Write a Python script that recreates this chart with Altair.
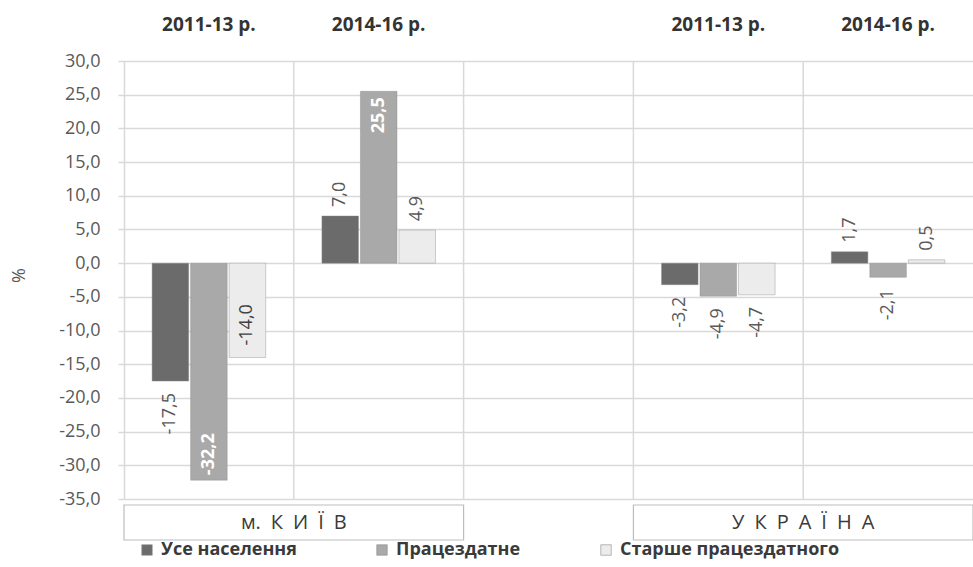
import altair as alt
import pandas as pd

# --- data -------------------------------------------------------------------
regions = ["м. К И Ї В", "У К Р А Ї Н А"]
periods = ["2011-13 р.", "2014-16 р."]
series = ["Усе населення", "Працездатне", "Старше працездатного"]

kyiv_2011_13 = [-17.5, -32.2, -14.0]
kyiv_2014_16 = [7.0, 25.5, 4.9]
ukraine_2011_13 = [-3.2, -4.9, -4.7]
ukraine_2014_16 = [1.7, -2.1, 0.5]

y_ticks = [30, 25, 20, 15, 10, 5, 0, -5, -10, -15, -20, -25, -30, -35]

values = {
    (regions[0], periods[0]): kyiv_2011_13,
    (regions[0], periods[1]): kyiv_2014_16,
    (regions[1], periods[0]): ukraine_2011_13,
    (regions[1], periods[1]): ukraine_2014_16,
}

# labels that sit inside their bar instead of past its end
inside_labels = {
    (regions[0], periods[0], series[1]),
    (regions[0], periods[0], series[2]),
    (regions[0], periods[1], series[1]),
}

# --- layout -----------------------------------------------------------------
W, H = 849, 438
FONT = "Open Sans"
GRID = "#d9d9d9"
TEXT = "#595959"
bar_colors = ["#6b6b6b", "#a9a9a9", "#ececec"]

# slot order along x: two periods for Kyiv, an empty slot, two for Ukraine
gap = "·"
slot_order = [f"{regions[0]} {p}" for p in periods] + [gap] + [f"{regions[1]} {p}" for p in periods]
n_slots = len(slot_order)

rows = []
for region in regions:
    for period in periods:
        for s, v in zip(series, values[(region, period)]):
            rows.append(dict(
                slot=f"{region} {period}", region=region, period=period,
                series=s, value=v,
                label=f"{v:.1f}".replace(".", ","),
                inside=(region, period, s) in inside_labels,
                mid=(s == series[1]),
            ))
df = pd.DataFrame(rows)

y_scale = alt.Scale(domain=[-35, 30], nice=False, zero=False)
y_axis = alt.Axis(
    values=y_ticks,
    labelExpr="replace(replace(format(datum.value, '.1f'), '.', ','), '\u2212', '-')",
    labelOverlap=False,
    title="%", titleX=-96, titleY=214, titleFontSize=18, titleFontWeight="normal",
    titleColor=TEXT, titleFont=FONT,
    grid=True, gridColor=GRID, gridWidth=1.5,
    domainColor=GRID, domainWidth=1.5,
    tickColor=GRID, tickSize=6, tickWidth=1.5,
    labelFont=FONT, labelFontSize=18, labelColor=TEXT, labelPadding=18,
)
x_band = alt.X("slot:N", scale=alt.Scale(domain=slot_order, paddingInner=0, paddingOuter=0), axis=None)
x_off = alt.XOffset("series:N", scale=alt.Scale(domain=series, paddingOuter=0.73, paddingInner=0.05))
y_enc = alt.Y("value:Q", scale=y_scale, axis=y_axis)

base = alt.Chart(df)

bars = base.mark_bar(stroke="#8c8c8c", strokeWidth=0.6, strokeOpacity=0.7).encode(
    x=x_band, xOffset=x_off, y=y_enc,
    color=alt.Color(
        "series:N",
        scale=alt.Scale(domain=series, range=bar_colors),
        legend=alt.Legend(
            title=None, orient="none", legendX=14, legendY=480, direction="horizontal",
            columns=3, columnPadding=76,
            symbolType="square", symbolSize=110, symbolStrokeColor="#8c8c8c", symbolStrokeWidth=0.6,
            labelFont=FONT, labelFontSize=18, labelFontWeight="bold", labelColor="#3a3a3a",
            labelOffset=5, labelLimit=400,
        ),
    ),
)


def value_labels(test, align, dx, color=TEXT, weight="normal"):
    return base.transform_filter(test).mark_text(
        angle=270, align=align, baseline="middle", dx=dx,
        font=FONT, fontSize=18, fontWeight=weight, color=color,
    ).encode(x=x_band, xOffset=x_off, y=y_enc, text="label:N")


labels = [
    value_labels("!datum.inside && datum.value >= 0", "left", 9),
    value_labels("!datum.inside && datum.value < 0", "right", -12),
    value_labels("datum.inside && datum.mid && datum.value < 0", "left", 5, "white", "bold"),
    value_labels("datum.inside && datum.mid && datum.value > 0", "right", -6, "white", "bold"),
    value_labels("datum.inside && !datum.mid && datum.value < 0", "left", 12, "#404040"),
]

main = alt.layer(bars, *labels)

# --- overlay on a continuous slot scale: separators, headers, region boxes -----
x_slots = alt.Scale(domain=[0, n_slots], nice=False, zero=False)

separators = alt.Chart(pd.DataFrame({"pos": list(range(1, n_slots))})).mark_rule(
    color=GRID, strokeWidth=1.5
).encode(
    x=alt.X("pos:Q", scale=x_slots, axis=None),
    y=alt.value(0), y2=alt.value(H),
)

header_rows = []
for region in regions:
    for period in periods:
        header_rows.append(dict(pos=slot_order.index(f"{region} {period}") + 0.5, period=period))
headers = alt.Chart(pd.DataFrame(header_rows)).mark_text(
    font=FONT, fontSize=19, fontWeight="bold", color="#333333", baseline="middle"
).encode(
    x=alt.X("pos:Q", scale=x_slots, axis=None),
    y=alt.value(-36),
    text="period:N",
)

box_rows = []
for region in regions:
    idx = [slot_order.index(f"{region} {p}") for p in periods]
    box_rows.append(dict(start=min(idx), end=max(idx) + 1,
                         region=region.replace(" ", "\u2002")))
boxes_df = pd.DataFrame(box_rows)

boxes = alt.Chart(boxes_df).mark_rect(fill="white", stroke="#bdbdbd", strokeWidth=1.2).encode(
    x=alt.X("start:Q", scale=x_slots, axis=None),
    x2="end:Q",
    y=alt.value(444), y2=alt.value(479),
)

box_text = alt.Chart(boxes_df).transform_calculate(
    mid="(datum.start + datum.end) / 2"
).mark_text(font=FONT, fontSize=20, color="#3a3a3a", baseline="middle").encode(
    x=alt.X("mid:Q", scale=x_slots, axis=None),
    y=alt.value(462),
    text="region:N",
)

overlay = alt.layer(separators, headers, boxes, box_text)

chart = alt.layer(overlay, main).resolve_scale(x="independent").properties(
    width=W, height=H,
    autosize=alt.AutoSizeParams(type="none"),
    padding={"left": 124, "top": 61, "right": 0, "bottom": 68},
    background="white",
).configure_view(stroke=None)

chart.save("out.html", embed_options={"renderer": "svg", "actions": False})
